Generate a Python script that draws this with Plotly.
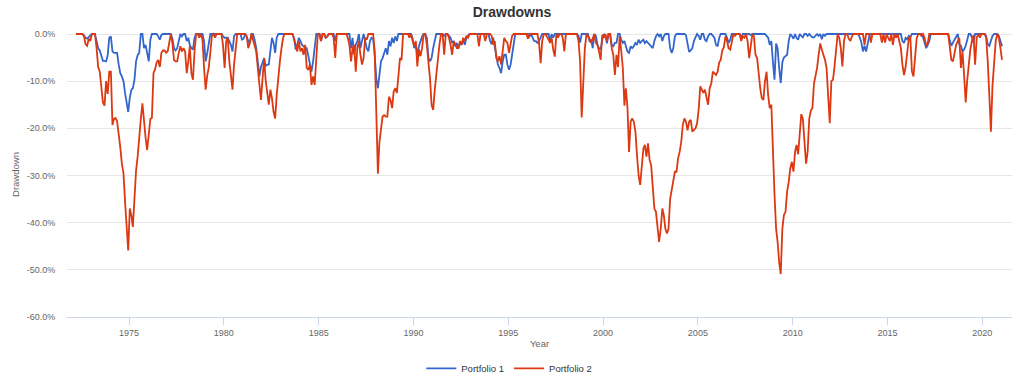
import pandas as pd
import plotly.graph_objects as go

# Monthly drawdowns (%) starting March 1972, 12 values per row
portfolio_2 = [
    0, 0, 0, 0, 0, -0.5, -2.2, -2.5, -1, -1.5, 0, 0,
    0, -3, -7, -8, -12, -14.5, -15.2, -10, -12.7, -8, -8, -19.3,
    -18, -17.8, -18.5, -21, -24, -27.5, -29.5, -35.5, -41, -45.9, -37, -38.5,
    -40.9, -35, -29, -26, -21, -18, -14.7, -19, -22, -24.6, -21, -18,
    -17.8, -8.3, -7.5, -6, -5.5, -7, -4, -3.5, -3.5, -4, -3.6, -1.5,
    0, -2, -5.5, -5.8, -5.8, -4, -2.6, -3.7, -3, -3.7, -8.3, -5.8,
    -2.6, -8.3, -9.7, -3.7, 0, 0, -0.8, 0, -1.2, -7.2, -11.8, -8.7,
    -7.2, -4, -0.4, 0, -0.8, 0, 0, 0, 0, -2.3, -7.2, -1.5,
    -0.8, -5.8, -8.7, -11.8, -6.5, -3.7, 0, 0, 0, 0, 0, 0,
    -0.5, -3, -1.9, 0, -1.2, -2.6, -3.7, -7.2, -11.1, -14, -9.4, -5.1,
    -9.7, -12.9, -15, -11.8, -13.6, -16.5, -17.9, -12.9, -8.7, -5.8, -3, -0.8,
    0, 0, 0, 0, 0, 0, -1, -2.6, -3.7, -1.5, -3.7, -3,
    -4.4, -2.3, -7.2, -7.6, -6.5, -10.8, -9, -10.8, -4.4, 0, 0, -1.5,
    0, 0, -0.8, -0.5, 0, 0, 0, -0.8, -5.1, 0, 0, 0,
    0, 0, 0, 0, -0.8, -2.3, -5.8, -3, -2.3, -8, -3, -1.5,
    -4.4, -6.5, -5.1, -0.8, -1.2, 0, 0, 0, 0, -3.5, -16, -29.6,
    -23, -20, -17.5, -17.2, -17.5, -17.5, -13.3, -14, -15.7, -12.2, -11.5, -12.5,
    -8.6, -5.1, -5.5, 0, 0, 0, 0, -0.8, 0, -1.5, -2.6, -1.5,
    -6.9, -3.3, -4.7, -3, 0, 0, -2.3, -6, -9.4, -15, -16.1, -11.8,
    -8.6, -5.1, -2.3, 0, 0, -4.4, 0, 0, -0.8, -2.3, -4.4, -1.5,
    -2.3, -3, -3, -1.5, -2.3, -0.8, -1.5, -0.4, -0.8, 0, 0, 0,
    0, 0, 0, -2.6, 0, 0, 0, -1.5, 0, 0, 0, -0.4,
    -2.2, -1.5, -5.1, -5.8, -4.7, -6.5, -3, -0.8, -1.5, -1.9, -4, -1.9,
    -0.4, 0, 0, 0, 0, 0, 0, 0, 0, 0, -1, 0,
    0, 0, 0, 0, 0, -1.9, -6.2, -1.5, 0, 0, -0.5, -1.2,
    -1.9, -0.8, -3.3, -4.8, 0, -0.8, 0, 0, -0.8, -3.7, 0, 0,
    0, 0, 0, 0, 0, 0, -1.5, -5.8, -17.7, -8.7, -3, 0,
    -0.4, -1, -1.9, -0.8, 0, -1.9, -2.3, -3.7, -5.5, -0.2, -0.8, 0,
    -1.5, 0, 0, -3, -4.4, -8.7, -4.4, -7, -0.5, -3.5, -7.2, -15.2,
    -11.5, -15.7, -25, -18.6, -17.9, -18.6, -20.7, -25.7, -30, -32, -27.8, -24.3,
    -23.5, -26, -23.2, -26.7, -27.8, -32, -37, -37.7, -40.6, -44.1, -41.3, -37,
    -38.4, -41.3, -42.3, -41.3, -35, -32.8, -31.4, -29.2, -29.2, -26.4, -25, -22.8,
    -19.3, -17.9, -18.6, -20.4, -18.6, -18.2, -20.7, -20.4, -20, -19, -16, -11.1,
    -11.8, -12.5, -11.8, -13.6, -15, -11.5, -10.5, -8, -8.4, -8.7, -8, -6,
    -5.5, -3.5, -2.8, -0.5, -1.5, -3, -3.3, -1.5, 0, -0.4, 0, 0,
    0, -1.5, -0.5, -0.8, 0, -1.5, -5.1, -2.6, 0, -0.5, -4.4, -5.1,
    -8.7, -11.5, -13.6, -14, -10, -8, -13, -15.7, -15, -26, -34, -41.3,
    -44, -48.4, -50.9, -41.3, -38.4, -37.7, -33.4, -31.4, -28.5, -27.1, -29.2, -25,
    -23.5, -25.5, -21, -17, -18, -22, -27.5, -25, -18, -16.3, -15.7, -10.5,
    -9, -7.2, -4.4, -2, -3.3, -4.4, -5.5, -7.2, -13, -18.9, -10, -9.7,
    -7, -2.8, 0, -0.8, -3, -6.9, -1.5, 0, 0, -1, -1.5, -0.5,
    0, 0, 0, 0, 0, 0, 0, -2.3, 0, 0, 0, -1.8,
    0, 0, 0, 0, 0, 0, -1.8, 0, -1.8, 0, -0.8, -1.5,
    0, -2.3, 0, -0.8, 0, -1.5, -3, -6.5, -8.7, -7, -3.3, -1,
    -0.4, -7.9, -9, -3.7, -1, 0, 0, -0.4, 0, -0.8, -2.6, -1.9,
    0, 0, 0, 0, 0, 0, 0, 0, 0, 0, 0, 0,
    0, -2.8, -5.5, -5.8, -4, -2.3, -1.5, -0.8, -7.2, -3.7, -8.7, -14.5,
    -10, -5.8, -3.3, -1.5, -0.2, -6.5, -0.8, 0, -0.8, 0, 0, 0,
    -0.8, -5.8, -13, -20.7, -11, -5.8, -1.5, 0, -0.8, -3, -5.5,
]

portfolio_1 = [
    0, 0, 0, 0, 0, -0.3, -0.8, -1, -0.6, -0.2, 0, 0,
    -0.1, -1.5, -3, -3.5, -4.7, -5.7, -5.7, -5.8, -4.5, -0.8, -0.5, -3.7,
    -4, -4, -4, -6.5, -8.3, -9, -10, -12.5, -15, -16.5, -13.5, -11.8,
    -11.5, -9.7, -5.8, -4.5, -4, 0, 0, -3, -2.3, -4, -5.8, -1.2,
    0, 0, 0, 0, -0.5, -1.2, -0.2, 0, 0, 0, 0, 0,
    0, -1, -3, -3.5, -3, -1.5, 0, -0.5, 0, 0, -1.5, -0.8,
    -2.3, -3, -3.3, -0.8, 0, 0, 0, 0, 0, -1.5, -5.8, -4,
    -1.5, 0, 0, 0, 0, 0, 0, 0, 0, -0.5, -0.8, -0.8,
    -0.8, -1.5, -2.3, -3.7, -0.5, 0, 0, 0, 0, -1.2, -1, 0,
    -0.5, -1.5, -2, 0, 0, -1.2, -3, -5.8, -9, -7, -6, -5.1,
    -6.8, -6.5, -6.5, -3, -0.8, -1.9, -4, -0.8, 0, 0, 0, 0,
    0, 0, 0, 0, 0, 0, -1, -3.3, -2.3, -0.8, -1.5, -2.3,
    -2.6, -3, -3, -4.7, -5.8, -8, -5.8, -2.3, 0, 0, 0, -1.5,
    0, 0, -0.8, -0.5, 0, 0, 0, 0, -1.5, 0, 0, 0,
    0, 0, 0, 0, 0, 0, -3, -0.8, -4.4, -2.3, -1.5, 0,
    -3, -1.5, 0, -1.5, -3, -3.7, -1.5, -0.8, -1, -4.4, -9.4, -11.5,
    -8, -5.8, -5.1, -3.7, -3, -4.4, -1.5, -2.6, -0.8, -1.9, -0.5, -1.5,
    0, 0, 0, 0, 0, 0, 0, 0, 0, -1, -3, -2.3,
    -4.4, -2.6, -1.5, -0.5, 0, 0, -0.8, -5, -5.8, -5.1, -3, -1.2,
    0, 0, 0, 0, 0, -0.4, 0, 0, -0.5, -0.8, -1.9, -1.5,
    -2.6, -1.9, -3, -1.9, -2.3, -1.2, -2.3, -0.8, -0.4, 0, 0, 0,
    0, 0, 0, 0, 0, 0, 0, 0, 0, 0, -1.5, -2.2,
    -0.8, -2.5, -4.4, -6.5, -7.2, -8.3, -5.8, -4.4, -4.4, -6.5, -7.6, -6.5,
    -4.4, -2.2, 0, 0, 0, 0, 0, 0, 0, 0, 0, -0.5,
    0, -0.8, -1.5, -1.5, -1.9, -1.5, -0.8, 0, 0, 0, 0, 0,
    -1.5, 0, -0.8, 0, 0, 0, 0, 0, 0, 0, 0, 0,
    0, 0, 0, 0, 0, 0, -0.4, -1.8, 0, 0, 0, 0,
    0, -1.5, -1.2, -3, 0, -0.4, -2.3, -3, -3.3, -1.2, 0, -0.4,
    -2, 0, 0, -2.3, -2.6, -1.9, -1.9, 0, 0, -1.2, -1.9, -1.5,
    -2.6, -3.7, -4, -2.6, -3, -2.6, -1.9, -2.3, -1.2, -1.9, -1.5, -1.2,
    -1.9, -1.5, -1.9, -2.3, -2.6, -3, -1.5, -0.5, 0, -0.5, 0, -1.5,
    -0.5, 0, 0, 0, -3, -4, -3, -0.5, 0, 0, 0, 0,
    0, 0, -0.2, -2.6, -3.8, -3.5, -3, -1.5, -0.7, 0, -0.4, -1.2,
    0, 0, -1.2, -1.5, -0.5, 0, 0, -0.4, -0.8, -2.3, -2.6, -0.8,
    0, 0, 0, 0, -0.8, -1.9, -1.2, 0, 0, 0, 0, 0,
    0, -0.8, 0, 0, 0, 0, 0, -0.2, 0, 0, 0, 0,
    0, 0, 0, 0, 0, -0.4, -0.8, -2.3, -1.5, -5.8, -9.7, -2,
    -3, -7.2, -10.4, -6, -5, -4.7, -4.4, -1.5, 0, -0.4, -1, 0,
    -0.8, -1.2, 0, -0.4, -0.7, 0, 0, -0.4, 0, -0.4, -0.7, -0.7,
    -0.4, 0, -0.4, 0, -1.1, 0, -0.4, 0, 0, 0, 0, 0,
    0, 0, 0, 0, 0, 0, 0, 0, 0, 0, 0, 0,
    0, 0, 0, 0, -0.7, -1.8, -3.7, -2.5, -3.7, -1.8, -0.4, 0,
    0, 0, 0, 0, 0, 0, 0, 0, 0, 0, 0, 0,
    0, 0, 0, 0, 0, 0, 0, -1.5, -1.9, -0.8, -1.1, -0.4,
    -0.7, 0, 0, 0, 0, 0, 0, 0, -0.7, -1.8, -3, -2.3,
    -1.5, 0, 0, 0, 0, 0, 0, 0, 0, 0, 0, 0,
    0, -1.4, -2.5, -1.8, -1.1, -0.7, 0, -2.2, -2.5, -3.7, -3.3, -2.5,
    -1.5, 0, 0, -0.7, -1.8, 0, 0, 0, 0, 0, 0, 0,
    -0.4, -2.2, -2.5, -1.5, -0.4, 0, 0, 0, -0.4, -1.5, -2.6,
]

series_names = ["Portfolio 1", "Portfolio 2"]
series_colors = ["#3366CC", "#DC3912"]
y_tick_vals = [0, -10, -20, -30, -40, -50, -60]
y_tick_text = ["0.0%", "-10.0%", "-20.0%", "-30.0%", "-40.0%", "-50.0%", "-60.0%"]
x_tick_years = [1975, 1980, 1985, 1990, 1995, 2000, 2005, 2010, 2015, 2020]

dates = pd.date_range("1972-03-01", periods=len(portfolio_2), freq="MS") + pd.Timedelta(days=15)

FONT = "Liberation Sans, Arial, Helvetica, sans-serif"

fig = go.Figure()
for name, vals, col in zip(series_names, [portfolio_1, portfolio_2], series_colors):
    fig.add_trace(go.Scatter(
        x=dates, y=vals, mode="lines", name=name,
        line=dict(color=col, width=1.8),
    ))

fig.update_layout(
    width=1024, height=382,
    margin=dict(l=67, r=12, t=32, b=65, autoexpand=False),
    paper_bgcolor="white", plot_bgcolor="white",
    font=dict(family=FONT, size=9, color="#666666"),
    title=dict(text="<b>Drawdowns</b>", x=0.5, xanchor="center",
               y=1 - 12 / 382, yanchor="middle", yref="container",
               font=dict(family=FONT, size=14, color="#333333")),
    showlegend=True,
    legend=dict(orientation="h", x=0.468, xanchor="center", y=-0.18, yanchor="middle",
                font=dict(family=FONT, size=9.5, color="#333333")),
)

fig.update_xaxes(
    range=["1971-09-24", "2021-07-27"],
    tickvals=[f"{y}-01-01" for y in x_tick_years],
    ticktext=[str(y) for y in x_tick_years],
    showgrid=False, zeroline=False, automargin=False,
    showline=True, linecolor="#ccd6eb", linewidth=1,
    ticks="outside", ticklen=7, tickcolor="#ccd6eb",
    tickfont=dict(size=9, color="#666666"),
    title=dict(text="Year", standoff=3, font=dict(size=9.5, color="#666666")),
)
fig.update_yaxes(
    range=[-60, 0.424],
    tickvals=y_tick_vals, ticktext=y_tick_text,
    showgrid=True, gridcolor="#e6e6e6", gridwidth=1, zeroline=False, automargin=False,
    ticks="outside", ticklen=9, tickcolor="rgba(0,0,0,0)",
    tickfont=dict(size=9, color="#666666"),
    title=dict(text="Drawdown", standoff=5, font=dict(size=9.5, color="#666666")),
)

fig.write_html("out.html", config={"displayModeBar": False},
               post_script="document.body.style.margin='0';")
